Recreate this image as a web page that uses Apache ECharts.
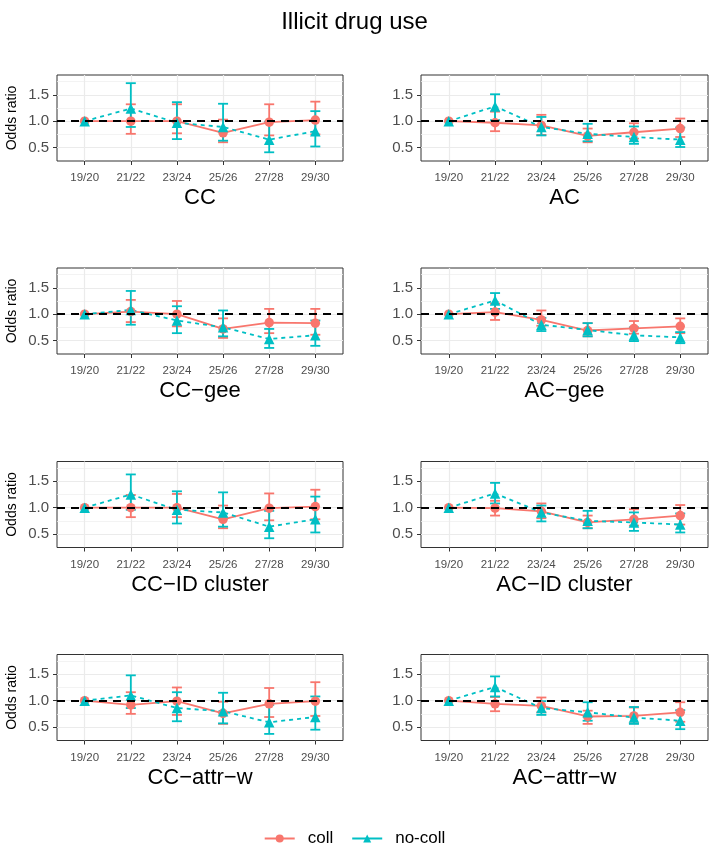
<!DOCTYPE html>
<html>
<head>
<meta charset="utf-8">
<script src="https://cdn.jsdelivr.net/npm/echarts@6/dist/echarts.min.js"></script>
<style>
html,body{margin:0;padding:0;background:#fff;}
#chart{width:709px;height:848px;}
</style>
</head>
<body>
<div id="chart"></div>
<script>
// ---- data ----
const waves = ['19/20', '21/22', '23/24', '25/26', '27/28', '29/30'];
const panelNames = ['CC', 'AC', 'CC\u2212gee', 'AC\u2212gee', 'CC\u2212ID cluster', 'AC\u2212ID cluster', 'CC\u2212attr\u2212w', 'AC\u2212attr\u2212w'];
const yTicks = [0.5, 1.0, 1.5];
const yMinor = [0.75, 1.25, 1.75];

// CC
const cc_coll_or   = [1.00, 1.00, 1.00, 0.78, 0.98, 1.02];
const cc_coll_lo   = [null, 0.76, 0.77, 0.60, 0.73, 0.75];
const cc_coll_hi   = [null, 1.32, 1.32, 1.03, 1.32, 1.37];
const cc_nocoll_or = [1.00, 1.24, 0.97, 0.89, 0.65, 0.81];
const cc_nocoll_lo = [null, 0.89, 0.66, 0.63, 0.41, 0.52];
const cc_nocoll_hi = [null, 1.72, 1.36, 1.33, 0.99, 1.19];
// AC
const ac_coll_or   = [1.00, 0.97, 0.92, 0.72, 0.79, 0.86];
const ac_coll_lo   = [null, 0.81, 0.74, 0.60, 0.67, 0.70];
const ac_coll_hi   = [null, 1.18, 1.12, 0.86, 0.96, 1.05];
const ac_nocoll_or = [1.00, 1.28, 0.89, 0.76, 0.70, 0.65];
const ac_nocoll_lo = [null, 1.02, 0.73, 0.62, 0.57, 0.51];
const ac_nocoll_hi = [null, 1.51, 1.08, 0.95, 0.90, 0.88];
// CC-gee
const ccg_coll_or   = [1.00, 1.05, 1.00, 0.72, 0.84, 0.83];
const ccg_coll_lo   = [null, 0.85, 0.77, 0.55, 0.64, 0.61];
const ccg_coll_hi   = [null, 1.27, 1.25, 0.92, 1.10, 1.10];
const ccg_nocoll_or = [1.00, 1.08, 0.88, 0.75, 0.53, 0.60];
const ccg_nocoll_lo = [null, 0.80, 0.64, 0.58, 0.36, 0.40];
const ccg_nocoll_hi = [null, 1.44, 1.15, 1.07, 0.72, 0.88];
// AC-gee
const acg_coll_or   = [1.00, 1.04, 0.89, 0.69, 0.73, 0.77];
const acg_coll_lo   = [null, 0.89, 0.78, 0.58, 0.63, 0.64];
const acg_coll_hi   = [null, 1.20, 1.07, 0.83, 0.87, 0.92];
const acg_nocoll_or = [1.00, 1.26, 0.80, 0.70, 0.60, 0.56];
const acg_nocoll_lo = [null, 1.10, 0.68, 0.58, 0.49, 0.45];
const acg_nocoll_hi = [null, 1.40, 0.93, 0.83, 0.75, 0.66];
// CC-ID cluster
const cci_coll_or   = [1.00, 1.00, 1.00, 0.78, 0.99, 1.02];
const cci_coll_lo   = [null, 0.82, 0.82, 0.61, 0.76, 0.78];
const cci_coll_hi   = [null, 1.24, 1.26, 1.04, 1.27, 1.34];
const cci_nocoll_or = [1.00, 1.25, 0.96, 0.91, 0.64, 0.78];
const cci_nocoll_lo = [null, 0.96, 0.70, 0.64, 0.42, 0.53];
const cci_nocoll_hi = [null, 1.63, 1.31, 1.29, 0.94, 1.21];
// AC-ID cluster
const aci_coll_or   = [1.00, 0.99, 0.93, 0.72, 0.78, 0.85];
const aci_coll_lo   = [null, 0.85, 0.80, 0.61, 0.66, 0.68];
const aci_coll_hi   = [null, 1.13, 1.08, 0.85, 0.97, 1.05];
const aci_nocoll_or = [1.00, 1.27, 0.91, 0.75, 0.72, 0.68];
const aci_nocoll_lo = [null, 1.08, 0.74, 0.61, 0.56, 0.53];
const aci_nocoll_hi = [null, 1.47, 1.04, 0.94, 0.91, 0.89];
// CC-attr-w
const cca_coll_or   = [1.00, 0.92, 0.99, 0.76, 0.94, 0.99];
const cca_coll_lo   = [null, 0.75, 0.73, 0.56, 0.69, 0.71];
const cca_coll_hi   = [null, 1.16, 1.25, 0.98, 1.24, 1.35];
const cca_nocoll_or = [1.00, 1.10, 0.86, 0.80, 0.59, 0.69];
const cca_nocoll_lo = [null, 0.86, 0.61, 0.57, 0.37, 0.45];
const cca_nocoll_hi = [null, 1.48, 1.16, 1.15, 0.92, 1.08];
// AC-attr-w
const aca_coll_or   = [1.00, 0.94, 0.90, 0.70, 0.71, 0.78];
const aca_coll_lo   = [null, 0.80, 0.78, 0.56, 0.57, 0.60];
const aca_coll_hi   = [null, 1.07, 1.06, 0.81, 0.87, 0.97];
const aca_nocoll_or = [1.00, 1.26, 0.86, 0.78, 0.68, 0.62];
const aca_nocoll_lo = [null, 1.08, 0.73, 0.62, 0.56, 0.46];
const aca_nocoll_hi = [null, 1.46, 0.99, 0.97, 0.88, 0.82];

const panels = [
  [cc_coll_or, cc_coll_lo, cc_coll_hi, cc_nocoll_or, cc_nocoll_lo, cc_nocoll_hi],
  [ac_coll_or, ac_coll_lo, ac_coll_hi, ac_nocoll_or, ac_nocoll_lo, ac_nocoll_hi],
  [ccg_coll_or, ccg_coll_lo, ccg_coll_hi, ccg_nocoll_or, ccg_nocoll_lo, ccg_nocoll_hi],
  [acg_coll_or, acg_coll_lo, acg_coll_hi, acg_nocoll_or, acg_nocoll_lo, acg_nocoll_hi],
  [cci_coll_or, cci_coll_lo, cci_coll_hi, cci_nocoll_or, cci_nocoll_lo, cci_nocoll_hi],
  [aci_coll_or, aci_coll_lo, aci_coll_hi, aci_nocoll_or, aci_nocoll_lo, aci_nocoll_hi],
  [cca_coll_or, cca_coll_lo, cca_coll_hi, cca_nocoll_or, cca_nocoll_lo, cca_nocoll_hi],
  [aca_coll_or, aca_coll_lo, aca_coll_hi, aca_nocoll_or, aca_nocoll_lo, aca_nocoll_hi]
];

// ---- styling ----
const FONT = '"Liberation Sans", Arial, Helvetica, sans-serif';
const COLL = '#F8766D';
const NOCOLL = '#00BFC4';
const colLeft = [57, 421];
const colWidth = [286, 287];
const rowTop = [75, 268, 461.5, 654.5];
const panelH = 86;
const Y_MIN = 0.245, Y_MAX = 1.875;
const X_MIN = -0.6, X_MAX = 5.6;

function errRender(color) {
  return function (params, api) {
    const x = api.value(0), lo = api.value(1), hi = api.value(2);
    const a = api.coord([x, lo]);
    const b = api.coord([x, hi]);
    const hw = 5;
    const st = { stroke: color, lineWidth: 1.8, fill: null };
    return {
      type: 'group',
      children: [
        { type: 'line', shape: { x1: a[0], y1: a[1], x2: b[0], y2: b[1] }, style: st },
        { type: 'line', shape: { x1: a[0] - hw, y1: a[1], x2: a[0] + hw, y2: a[1] }, style: st },
        { type: 'line', shape: { x1: b[0] - hw, y1: b[1], x2: b[0] + hw, y2: b[1] }, style: st }
      ]
    };
  };
}

const grids = [], xAxes = [], yAxes = [], series = [];
panels.forEach((p, k) => {
  const col = k % 2, row = Math.floor(k / 2);
  grids.push({
    left: colLeft[col], top: rowTop[row], width: colWidth[col], height: panelH,
    show: true, borderColor: '#333333', borderWidth: 1, backgroundColor: '#ffffff',
    containLabel: false
  });
  xAxes.push({
    type: 'value', gridIndex: k, min: X_MIN, max: X_MAX, position: 'bottom',
    name: panelNames[k], nameLocation: 'middle', nameGap: 26,
    nameTextStyle: { fontFamily: FONT, fontSize: 22, color: '#000' },
    axisLine: { show: false, onZero: false },
    axisTick: { show: true, length: 4, customValues: [0, 1, 2, 3, 4, 5], lineStyle: { color: '#333333', width: 1 } },
    axisLabel: { show: true, customValues: [0, 1, 2, 3, 4, 5], margin: 11, formatter: v => waves[Math.round(v)],
      fontFamily: FONT, fontSize: 11.5, color: '#4D4D4D' },
    splitLine: { show: true, lineStyle: { color: '#EBEBEB', width: 1.2 } }
  });
  yAxes.push({
    type: 'value', gridIndex: k, min: Y_MIN, max: Y_MAX, position: 'left',
    name: col === 0 ? 'Odds ratio' : '', nameLocation: 'middle', nameRotate: 90, nameGap: 38,
    nameTextStyle: { fontFamily: FONT, fontSize: 14, color: '#000' },
    axisLine: { show: false, onZero: false },
    axisTick: { show: true, length: 4, customValues: yTicks, lineStyle: { color: '#333333', width: 1 } },
    axisLabel: { show: true, customValues: yTicks, margin: 8, formatter: v => v.toFixed(1),
      fontFamily: FONT, fontSize: 15, color: '#4D4D4D' },
    splitLine: { show: true, lineStyle: { color: '#EBEBEB', width: 1.2 } }
  });
  // minor grid axis
  yAxes.push({
    type: 'value', gridIndex: k, min: Y_MIN, max: Y_MAX, position: 'right',
    axisLine: { show: false, onZero: false }, axisLabel: { show: false },
    axisTick: { show: false, customValues: yMinor },
    splitLine: { show: true, lineStyle: { color: '#F0F0F0', width: 0.8 } }
  });
  const yIdx = k * 2;
  const toPts = arr => arr.map((v, i) => [i, v]);
  const toErr = (lo, hi) => lo.map((v, i) => (v == null ? null : [i, v, hi[i]])).filter(d => d);
  series.push({
    type: 'line', name: 'coll', xAxisIndex: k, yAxisIndex: yIdx, z: 3,
    data: toPts(p[0]), symbol: 'circle', symbolSize: 9.5,
    lineStyle: { color: COLL, width: 1.8, type: 'solid' },
    itemStyle: { color: COLL }, animation: false
  });
  series.push({
    type: 'line', name: 'no-coll', xAxisIndex: k, yAxisIndex: yIdx, z: 3,
    data: toPts(p[3]), symbol: 'triangle', symbolSize: 10.5,
    lineStyle: { color: NOCOLL, width: 1.8, type: [4, 4] },
    itemStyle: { color: NOCOLL }, animation: false
  });
  series.push({
    type: 'custom', name: 'coll-ci', xAxisIndex: k, yAxisIndex: yIdx, z: 2,
    renderItem: errRender(COLL), encode: { x: 0, y: [1, 2] }, data: toErr(p[1], p[2]), silent: true
  });
  series.push({
    type: 'custom', name: 'no-coll-ci', xAxisIndex: k, yAxisIndex: yIdx, z: 2,
    renderItem: errRender(NOCOLL), encode: { x: 0, y: [1, 2] }, data: toErr(p[4], p[5]), silent: true
  });
  series.push({
    type: 'line', name: 'ref', xAxisIndex: k, yAxisIndex: yIdx, z: 5, data: [],
    markLine: {
      silent: true, symbol: ['none', 'none'], label: { show: false },
      lineStyle: { color: '#000', width: 2, type: [8, 6] },
      data: [{ yAxis: 1 }], animation: false
    }
  });
});

const chart = echarts.init(document.getElementById('chart'), null, { renderer: 'canvas' });
chart.setOption({
  animation: false,
  backgroundColor: '#ffffff',
  title: {
    text: 'Illicit drug use', left: 'center', top: 5,
    textStyle: { fontFamily: FONT, fontSize: 24, fontWeight: 'normal', color: '#000' }
  },
  legend: {
    data: ['coll', 'no-coll'], left: 'center', top: 825,
    itemWidth: 30, itemHeight: 10, itemGap: 18,
    lineStyle: { type: 'solid' },
    textStyle: { fontFamily: FONT, fontSize: 17, color: '#000', padding: [0, 0, 0, 8] }
  },
  grid: grids, xAxis: xAxes, yAxis: yAxes, series: series
});
</script>
</body>
</html>
